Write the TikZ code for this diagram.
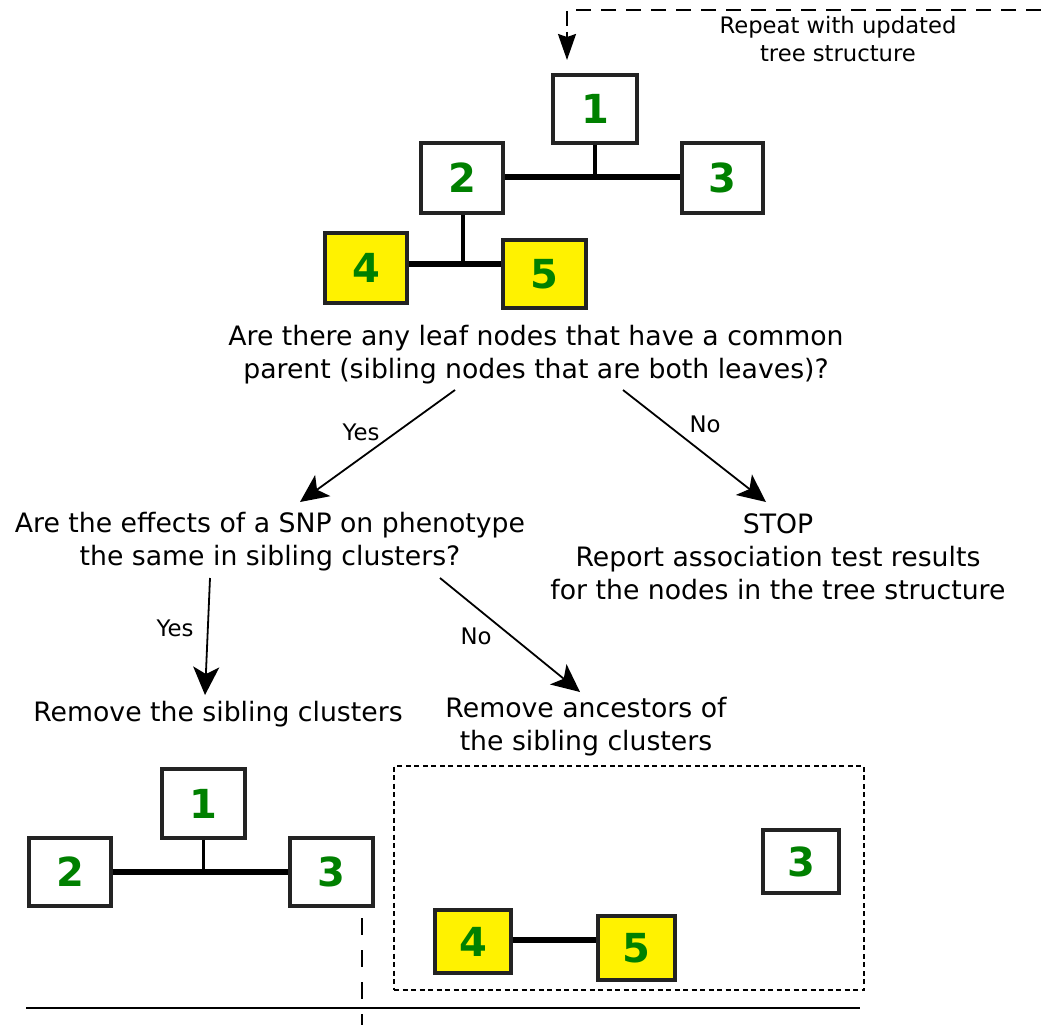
\documentclass[tikz,border=0pt]{standalone}
\usepackage{fontspec}
\setmainfont{DejaVu Sans}
\usetikzlibrary{arrows.meta}
\definecolor{numgreen}{RGB}{0,128,0}
\definecolor{boxline}{RGB}{35,35,35}
\begin{document}
\begin{tikzpicture}[x=1pt,y=-1pt,
  tbox/.style={draw=boxline, line width=3.2pt, fill=white, inner sep=0pt,
    text=numgreen, font=\bfseries\fontsize{40}{40}\selectfont},
  leafbox/.style={tbox, fill=yellow},
  maintext/.style={align=center, inner sep=0pt, font=\fontsize{26.7}{33}\selectfont},
  smalltext/.style={inner sep=0pt, font=\fontsize{22.8}{25}\selectfont},
  flow/.style={line width=1.8pt, -{Stealth[length=28pt,width=26pt,inset=7pt]}},
  thinedge/.style={line width=3.5pt},
  thickedge/.style={line width=6pt},
]
\useasboundingbox (0,0) rectangle (1041,1025);

% feedback loop
\coordinate (loopR) at (1041,10);
\coordinate (loopC) at (567,10);
\coordinate (loopT) at (567,60);
\draw[line width=1.8pt, dash pattern=on 15pt off 10pt] (loopR) -- (loopC) -- (567,30);
\draw[line width=1.8pt, -{Stealth[length=26pt,width=18pt,inset=3pt]}] (567,32) -- (loopT);
\node[inner sep=0pt, align=center, font=\fontsize{22.7}{28}\selectfont] (repeat) at (838,39) {Repeat with updated\\tree structure};

% initial tree
\node[tbox, minimum width=84pt, minimum height=68pt] (b1) at (595,109) {1};
\node[tbox, minimum width=82pt, minimum height=70pt] (b2) at (462,178) {2};
\node[tbox, minimum width=81pt, minimum height=70pt] (b3) at (722.5,178) {3};
\node[leafbox, minimum width=82pt, minimum height=70pt] (b4) at (366,268) {4};
\node[leafbox, minimum width=83pt, minimum height=68pt] (b5) at (544.5,274) {5};
\coordinate (j1) at (595,177);
\coordinate (j2) at (463,264);
\draw[thickedge] (b2.east|-j1) -- (b3.west|-j1);
\draw[thinedge] (b1.south) -- (j1);
\draw[thickedge] (b4.east|-j2) -- (b5.west|-j2);
\draw[thinedge] (b2.south-|j2) -- (j2);

% questions and outcomes
\node[maintext] (q1) at (536,355) {Are there any leaf nodes that have a common\\parent (sibling nodes that are both leaves)?};
\node[maintext] (q2) at (270,542) {Are the effects of a SNP on phenotype\\the same in sibling clusters?};
\node[maintext] (stop) at (778,557) {STOP\\Report association test results\\for the nodes in the tree structure};
\node[maintext] (r1) at (218,714) {Remove the sibling clusters};
\node[maintext] (r2) at (586,727) {Remove ancestors of\\the sibling clusters};

\coordinate (a1s) at (455,390); \coordinate (a1e) at (300,502);
\coordinate (a2s) at (623,390); \coordinate (a2e) at (766,502);
\coordinate (a3s) at (210,578); \coordinate (a3e) at (205,695);
\coordinate (a4s) at (440,578); \coordinate (a4e) at (580,692);
\draw[flow] (a1s) -- (a1e);
\draw[flow] (a2s) -- (a2e);
\draw[flow] (a3s) -- (a3e);
\draw[flow] (a4s) -- (a4e);
\node[smalltext] (yes1) at (361,432) {Yes};
\node[smalltext] (no1) at (705,424) {No};
\node[smalltext] (yes2) at (175,628) {Yes};
\node[smalltext] (no2) at (476,636) {No};

% tree after removing siblings
\node[tbox, minimum width=83pt, minimum height=69pt] (c1) at (203.5,803.5) {1};
\node[tbox, minimum width=82pt, minimum height=68pt] (c2) at (70,872) {2};
\node[tbox, minimum width=83pt, minimum height=68pt] (c3) at (331.5,872) {3};
\draw[thickedge] (c2.east) -- (c3.west);
\draw[thinedge] (c1.south) -- (c1.south|-c2.east);

% tree after removing ancestors
\node[draw, line width=1.2pt, dash pattern=on 5pt off 3.5pt, minimum width=470pt, minimum height=224pt, inner sep=0pt] (frame) at (629,878) {};
\node[tbox, minimum width=76pt, minimum height=63pt] (d3) at (801,861.5) {3};
\node[leafbox, minimum width=76pt, minimum height=63pt] (d4) at (473,941.5) {4};
\node[leafbox, minimum width=77pt, minimum height=64pt] (d5) at (636.5,948) {5};
\draw[thickedge] (d4.east|-0,940) -- (d5.west|-0,940);

% separators
\coordinate (sepL) at (26,1008);
\coordinate (sepR) at (860,1008);
\draw[line width=1.6pt] (sepL) -- (sepR);
\coordinate (vT) at (362,918);
\coordinate (vB) at (362,1025);
\draw[line width=1.8pt, dash pattern=on 17pt off 15pt] (vT) -- (vB);
\end{tikzpicture}
\end{document}
